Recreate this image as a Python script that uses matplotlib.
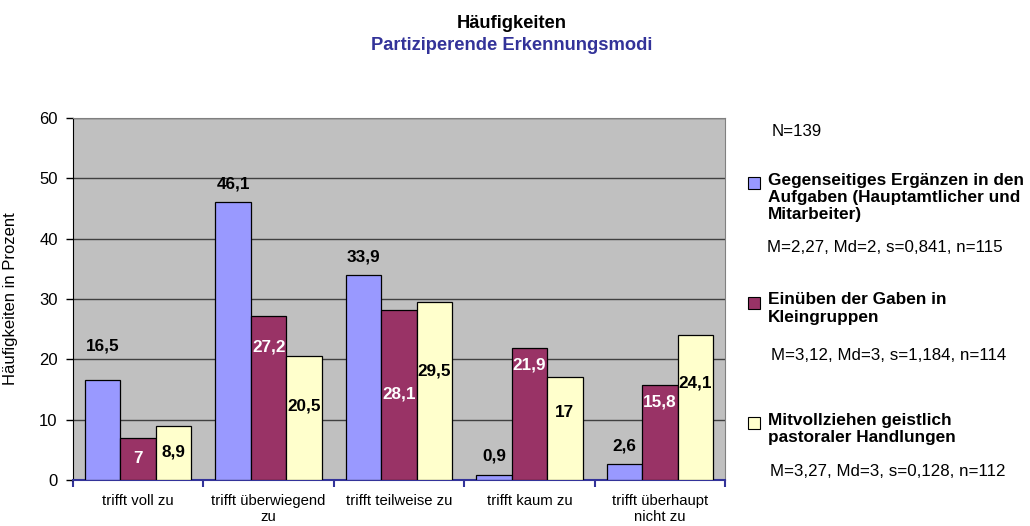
import numpy as np
import matplotlib
matplotlib.use('Agg')
import matplotlib.pyplot as plt
from matplotlib.patches import Rectangle

plt.rcParams['font.family'] = ['Liberation Sans', 'DejaVu Sans']

# Data
categories = ['trifft voll zu', 'trifft überwiegend\nzu', 'trifft teilweise zu',
              'trifft kaum zu', 'trifft überhaupt\nnicht zu']
series_names = ['Gegenseitiges Ergänzen in den\nAufgaben (Hauptamtlicher und\nMitarbeiter)',
                'Einüben der Gaben in\nKleingruppen',
                'Mitvollziehen geistlich\npastoraler Handlungen']
series_stats = ['M=2,27, Md=2, s=0,841, n=115',
                'M=3,12, Md=3, s=1,184, n=114',
                'M=3,27, Md=3, s=0,128, n=112']
gegenseitig = [16.5, 46.1, 33.9, 0.9, 2.6]
einueben = [7, 27.2, 28.1, 21.9, 15.8]
mitvollziehen = [8.9, 20.5, 29.5, 17, 24.1]
n_total = 'N=139'

colors = ['#9999FF', '#993366', '#FFFFCC']

# where the value labels sit (fraction of bar height), like the Excel layout
purple_frac = [0.52, 0.81, 0.51, 0.87, 0.82]
yellow_frac = [0.52, 0.60, 0.61, 0.66, 0.67]


def fmt(v):
    return ('%g' % v).replace('.', ',')


fig = plt.figure(figsize=(10.3, 5.26), dpi=100)
ax = fig.add_axes([73 / 1030, 46 / 526, 652 / 1030, 362 / 526])
ax.set_facecolor('#C0C0C0')

x = np.arange(len(categories))
w = 0.272
all_series = [gegenseitig, einueben, mitvollziehen]
for i, vals in enumerate(all_series):
    ax.bar(x + (i - 1) * w, vals, w, color=colors[i], edgecolor='black',
           linewidth=0.9, zorder=3)

lab = dict(ha='center', va='center', fontsize=12.3, fontweight='bold', zorder=4)
for j in range(len(categories)):
    off = 5.7 if j == 0 else 3.0  # first blue label sits a bit higher
    ax.text(x[j] - w, gegenseitig[j] + off, fmt(gegenseitig[j]), color='black', **lab)
    ax.text(x[j], einueben[j] * purple_frac[j], fmt(einueben[j]), color='white', **lab)
    ax.text(x[j] + w, mitvollziehen[j] * yellow_frac[j], fmt(mitvollziehen[j]),
            color='black', **lab)

ax.set_xlim(-0.5, len(categories) - 0.5)
ax.set_ylim(0, 60)
ax.set_yticks(np.arange(0, 61, 10))
ax.yaxis.grid(True, color='#404040', linewidth=1.0, zorder=0)
ax.set_axisbelow(True)
ax.tick_params(axis='y', labelsize=12, length=5, width=1, pad=6, direction='out')
ax.set_xticks(x)
ax.set_xticklabels(categories, fontsize=10.7, linespacing=1.15)
ax.tick_params(axis='x', length=0, pad=10)
ax.set_xticks(np.arange(-0.5, len(categories)), minor=True)
ax.tick_params(axis='x', which='minor', length=5, width=1.5, color='#333399')
ax.set_ylabel('Häufigkeiten in Prozent', fontsize=12)
ax.yaxis.set_label_coords(-0.084, 0.5)

for s in ['top', 'right']:
    ax.spines[s].set_color('#808080')
ax.spines['left'].set_color('black')
ax.spines['bottom'].set_color('#333399')
ax.spines['bottom'].set_linewidth(1.5)

fig.text(512 / 1030, 1 - 24 / 526, 'Häufigkeiten', ha='center', va='center',
         fontsize=13.2, fontweight='bold', color='black')
fig.text(512 / 1030, 1 - 46 / 526, 'Partiziperende Erkennungsmodi', ha='center',
         va='center', fontsize=13.2, fontweight='bold', color='#333399')

# legend on the right, built by hand
fig.text(772 / 1030, 1 - 131 / 526, n_total, ha='left', va='center', fontsize=12.2)
legend_first = [183, 303, 423]
stats_y = [248, 356, 472]
stats_x = [767, 771, 770]
for i in range(3):
    yc = 1 - legend_first[i] / 526
    fig.patches.append(Rectangle((748 / 1030, yc - 6 / 526), 12 / 1030, 12 / 526,
                                 transform=fig.transFigure, facecolor=colors[i],
                                 edgecolor='black', linewidth=0.8))
    fig.text(768 / 1030, yc + 10.5 / 526, series_names[i], ha='left', va='top',
             fontsize=12.4, fontweight='bold', linespacing=1.2)
    fig.text(stats_x[i] / 1030, 1 - stats_y[i] / 526, series_stats[i], ha='left',
             va='center', fontsize=12.2)

fig.savefig('out.png', dpi=100)
